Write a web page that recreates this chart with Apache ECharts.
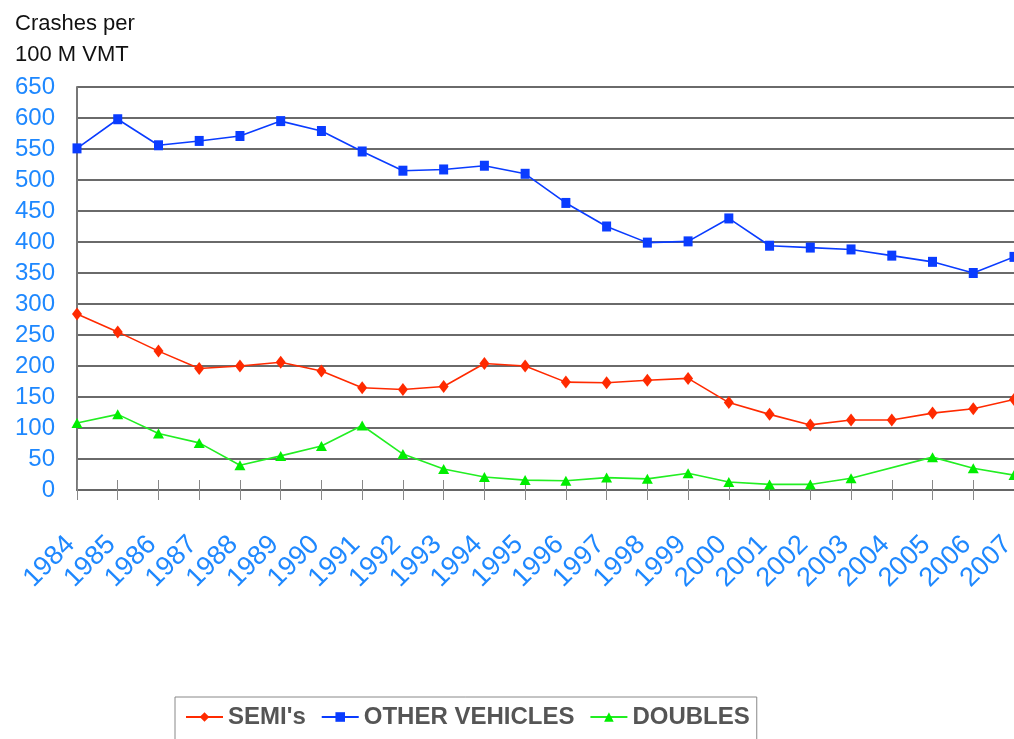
<!DOCTYPE html>
<html>
<head>
<meta charset="utf-8">
<script src="https://cdn.jsdelivr.net/npm/echarts@6/dist/echarts.min.js"></script>
<style>
html,body{margin:0;padding:0;background:#fff;overflow:hidden;}
#chart{width:1014px;height:739px;}
</style>
</head>
<body>
<div id="chart"></div>
<script>
var years = ['1984','1985','1986','1987','1988','1989','1990','1991','1992','1993','1994','1995','1996','1997','1998','1999','2000','2001','2002','2003','2004','2005','2006','2007'];
var semis = [284,255,224,196,200,206,192,165,162,167,204,200,174,173,177,180,141,122,105,113,113,124,131,146];
var otherVehicles = [551,598,556,563,571,595,579,546,515,517,523,510,463,425,399,401,438,394,391,388,378,368,350,376];
var doubles = [108,122,91,76,40,55,71,104,58,34,21,16,15,20,18,27,13,9,9,19,null,53,35,24];
var yTicks = {min:0, max:650, interval:50};
var yTitle = 'Crashes per\n100 M VMT';
var seriesNames = ["SEMI's", 'OTHER VEHICLES', 'DOUBLES'];

var blueText = '#1E88FF';
var chart = echarts.init(document.getElementById('chart'));
chart.setOption({
  animation: false,
  backgroundColor: '#ffffff',
  title: {
    text: yTitle,
    left: 10, top: 3,
    textStyle: {fontFamily: 'Liberation Sans', fontSize: 22, fontWeight: 'normal', color: '#111', lineHeight: 31}
  },
  legend: {
    data: seriesNames,
    left: 175, top: 697,
    padding: [8, 7, 40, 10],
    borderColor: '#888', borderWidth: 1,
    itemWidth: 37, itemHeight: 12, itemGap: 15,
    textStyle: {fontFamily: 'Liberation Sans', fontSize: 24, fontWeight: 'bold', color: '#555555'}
  },
  grid: {left: 77, right: 0, top: 87, bottom: 249, containLabel: false, outerBoundsMode: 'none'},
  xAxis: [{
    type: 'category', data: years, boundaryGap: false,
    axisLine: {lineStyle: {color: '#666', width: 2}},
    axisTick: {show: true, length: 10, lineStyle: {color: '#888', width: 1}},
    axisLabel: {rotate: 45, margin: 44, padding: [0, 9, 0, 0], color: blueText, fontFamily: 'Liberation Sans', fontSize: 27, interval: 0}
  },{
    type: 'category', data: years, boundaryGap: false, position: 'bottom',
    axisLine: {show: false},
    axisTick: {show: true, inside: true, length: 10, lineStyle: {color: '#888', width: 1}},
    axisLabel: {show: false}
  }],
  yAxis: {
    type: 'value', min: yTicks.min, max: yTicks.max, interval: yTicks.interval,
    axisLine: {show: true, lineStyle: {color: '#777', width: 2}},
    axisTick: {show: false},
    axisLabel: {margin: 22, color: blueText, fontFamily: 'Liberation Sans', fontSize: 24},
    splitLine: {lineStyle: {color: '#6a6a6a', width: 2}}
  },
  series: [{
    name: seriesNames[0], type: 'line', data: semis,
    symbol: 'diamond', symbolSize: [10, 13],
    itemStyle: {color: '#FF2A00'}, lineStyle: {color: '#FF2A00', width: 1.6}
  },{
    name: seriesNames[1], type: 'line', data: otherVehicles,
    symbol: 'rect', symbolSize: [9, 10],
    itemStyle: {color: '#0A3CFF'}, lineStyle: {color: '#0A3CFF', width: 1.6}
  },{
    name: seriesNames[2], type: 'line', data: doubles, connectNulls: true,
    symbol: 'triangle', symbolSize: [11, 10],
    itemStyle: {color: '#00EE00'}, lineStyle: {color: '#22EE22', width: 1.6}
  }]
});
</script>
</body>
</html>
